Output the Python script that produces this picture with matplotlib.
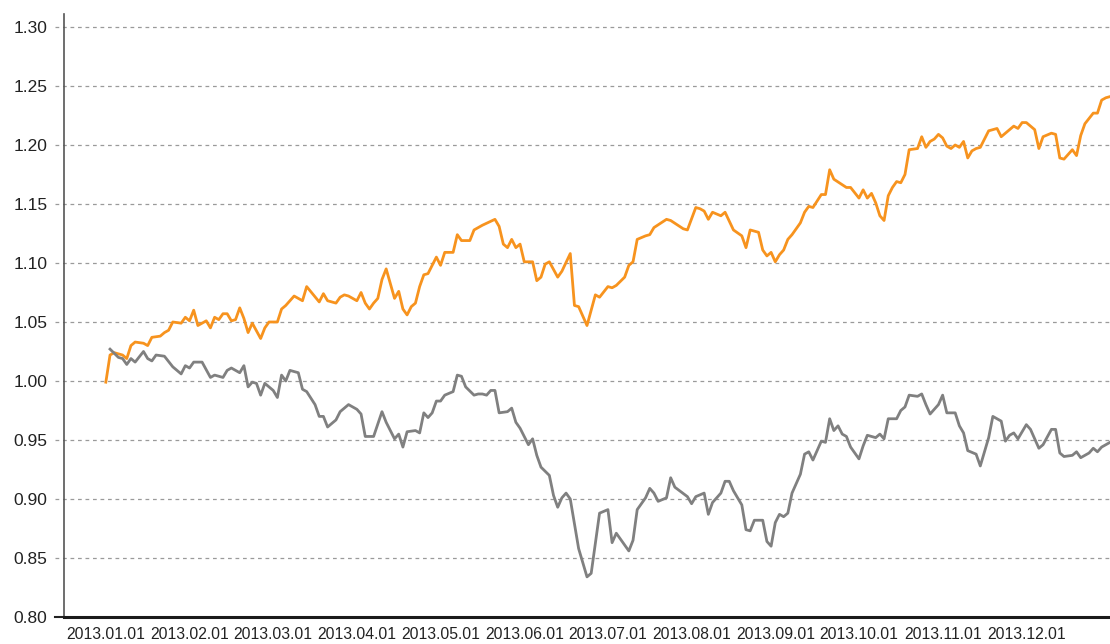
import matplotlib
matplotlib.use("Agg")
import matplotlib.pyplot as plt

plt.rcParams['font.family'] = ['Liberation Sans', 'DejaVu Sans']

# trading-day index (20 per month) and values
orange_days = [0, 1, 2, 4, 5, 6, 7, 9, 10, 11, 13, 14, 15, 16, 18, 19,
               20, 21, 22, 24, 25, 26, 27, 28, 29, 30, 31, 32, 33, 34, 35, 37, 38, 39,
               41, 42, 43, 44, 45, 47, 48, 51, 52, 53, 55, 56, 57, 58,
               60, 61, 62, 63, 64, 65, 66, 67, 69, 70, 71, 72, 73, 74, 75, 76, 77, 78, 79,
               80, 81, 83, 84, 85, 87, 88, 89, 90, 93, 94, 95, 96, 97, 98, 99,
               100, 102, 103, 104, 105, 106, 108, 109, 111, 112, 113, 115, 117, 118,
               120, 121, 122, 124, 125, 126, 127, 129, 130, 131, 134, 135, 138, 139,
               141, 142, 143, 144, 145, 147, 148, 150, 152, 153, 154, 156, 157, 158, 159,
               160, 161, 162, 163, 164, 166, 167, 168, 169, 171, 172, 173, 174, 177, 178,
               180, 181, 182, 183, 184, 185, 186, 187, 188, 189, 190, 191, 192, 194, 195,
               196, 197, 198, 199, 200, 201, 202, 203, 204, 205, 206, 207, 208, 209,
               211, 213, 214, 216, 217, 218, 219, 220, 222, 223, 224, 226, 227, 228, 229,
               231, 232, 233, 234, 236, 237, 238, 239, 240]
orange_vals = [0.999, 1.022, 1.024, 1.022, 1.019, 1.030, 1.033, 1.032, 1.030, 1.037, 1.038, 1.041, 1.043, 1.050, 1.049, 1.054,
               1.051, 1.060, 1.047, 1.051, 1.045, 1.054, 1.052, 1.057, 1.057, 1.051, 1.052, 1.062, 1.053, 1.041, 1.049, 1.036, 1.045, 1.050,
               1.050, 1.061, 1.064, 1.068, 1.072, 1.068, 1.080, 1.067, 1.074, 1.068, 1.066, 1.071, 1.073, 1.072,
               1.068, 1.075, 1.066, 1.061, 1.066, 1.070, 1.086, 1.095, 1.070, 1.076, 1.061, 1.056, 1.063, 1.066, 1.080, 1.090, 1.091, 1.098, 1.105,
               1.098, 1.109, 1.109, 1.124, 1.119, 1.119, 1.128, 1.130, 1.132, 1.137, 1.131, 1.116, 1.113, 1.120, 1.113, 1.116,
               1.101, 1.101, 1.085, 1.088, 1.099, 1.101, 1.088, 1.093, 1.108, 1.064, 1.063, 1.047, 1.073, 1.071,
               1.080, 1.079, 1.081, 1.088, 1.098, 1.101, 1.120, 1.123, 1.124, 1.130, 1.137, 1.136, 1.129, 1.128,
               1.147, 1.146, 1.144, 1.137, 1.143, 1.140, 1.143, 1.128, 1.123, 1.113, 1.128, 1.126, 1.111, 1.106, 1.109,
               1.101, 1.107, 1.111, 1.120, 1.124, 1.134, 1.143, 1.148, 1.147, 1.158, 1.158, 1.179, 1.171, 1.164, 1.164,
               1.155, 1.162, 1.155, 1.159, 1.151, 1.140, 1.136, 1.157, 1.164, 1.169, 1.168, 1.175, 1.196, 1.197, 1.207,
               1.198, 1.203, 1.205, 1.209, 1.206, 1.199, 1.197, 1.200, 1.198, 1.203, 1.189, 1.195, 1.197, 1.198,
               1.212, 1.214, 1.207, 1.213, 1.216, 1.214, 1.219, 1.219, 1.213, 1.197, 1.207, 1.210, 1.209, 1.189, 1.188,
               1.196, 1.191, 1.208, 1.218, 1.227, 1.227, 1.238, 1.240, 1.241]

gray_days = [1, 3, 4, 5, 6, 7, 9, 10, 11, 12, 14, 16, 18, 19,
             20, 21, 23, 25, 26, 28, 29, 30, 32, 33, 34, 35, 36, 37, 38,
             40, 41, 42, 43, 44, 46, 47, 48, 50, 51, 52, 53, 55, 56, 58,
             60, 61, 62, 64, 66, 67, 69, 70, 71, 72, 74, 75, 76, 77, 78, 79,
             80, 81, 83, 84, 85, 86, 88, 89, 90, 91, 92, 93, 94, 96, 97, 98, 99,
             101, 102, 103, 104, 106, 107, 108, 109, 110, 111, 113, 115, 116, 118,
             120, 121, 122, 125, 126, 127, 129, 130, 131, 132, 134, 135, 136, 139,
             140, 141, 143, 144, 145, 147, 148, 149, 150, 152, 153, 154, 155, 157, 158, 159,
             160, 161, 162, 163, 164, 166, 167, 168, 169, 171, 172, 173, 174, 175, 176, 177, 178,
             180, 181, 182, 184, 185, 186, 187, 189, 190, 191, 192, 194, 195, 196, 197, 199,
             200, 201, 203, 204, 205, 206, 208, 209, 211, 212, 214, 215, 216, 217, 218,
             220, 221, 223, 224, 226, 227, 228, 229, 231, 232, 233, 235, 236, 237, 238, 240]
gray_vals = [1.027, 1.020, 1.019, 1.014, 1.019, 1.016, 1.025, 1.019, 1.017, 1.022, 1.021, 1.012, 1.006, 1.013,
             1.011, 1.016, 1.016, 1.003, 1.005, 1.003, 1.009, 1.011, 1.007, 1.013, 0.995, 0.999, 0.998, 0.988, 0.998,
             0.992, 0.986, 1.005, 1.000, 1.009, 1.007, 0.993, 0.991, 0.980, 0.970, 0.970, 0.961, 0.967, 0.974, 0.980,
             0.976, 0.972, 0.953, 0.953, 0.974, 0.965, 0.951, 0.955, 0.944, 0.957, 0.958, 0.956, 0.973, 0.969, 0.973, 0.983,
             0.983, 0.988, 0.991, 1.005, 1.004, 0.995, 0.988, 0.989, 0.989, 0.988, 0.992, 0.992, 0.973, 0.974, 0.977, 0.965, 0.960,
             0.946, 0.951, 0.937, 0.927, 0.920, 0.903, 0.893, 0.901, 0.905, 0.900, 0.858, 0.834, 0.837, 0.888,
             0.891, 0.863, 0.871, 0.856, 0.865, 0.891, 0.901, 0.909, 0.905, 0.898, 0.901, 0.918, 0.910, 0.902,
             0.896, 0.902, 0.905, 0.887, 0.897, 0.905, 0.915, 0.915, 0.907, 0.895, 0.874, 0.873, 0.882, 0.882, 0.864, 0.860,
             0.880, 0.887, 0.885, 0.888, 0.905, 0.921, 0.938, 0.940, 0.933, 0.949, 0.948, 0.968, 0.958, 0.962, 0.955, 0.953, 0.944,
             0.934, 0.945, 0.954, 0.952, 0.955, 0.951, 0.968, 0.968, 0.975, 0.978, 0.988, 0.987, 0.989, 0.980, 0.972, 0.980,
             0.988, 0.973, 0.973, 0.962, 0.956, 0.941, 0.938, 0.928, 0.952, 0.970, 0.966, 0.949, 0.954, 0.956, 0.951,
             0.963, 0.959, 0.943, 0.946, 0.959, 0.959, 0.939, 0.936, 0.937, 0.940, 0.935, 0.939, 0.943, 0.940, 0.944, 0.948]

month_days = [0, 20, 40, 60, 80, 100, 120, 140, 160, 180, 200, 220]
month_labels = ['2013.01.01', '2013.02.01', '2013.03.01', '2013.04.01', '2013.05.01', '2013.06.01',
                '2013.07.01', '2013.08.01', '2013.09.01', '2013.10.01', '2013.11.01', '2013.12.01']
y_ticks = [0.80, 0.85, 0.90, 0.95, 1.00, 1.05, 1.10, 1.15, 1.20, 1.25, 1.30]

fig = plt.figure(figsize=(11.1, 6.44), dpi=100)
ax = fig.add_axes([64 / 1110, 27 / 644, 1046 / 1110, 603 / 644])

# dashed grid that runs a little past the left axis
for v in y_ticks[1:]:
    ax.axhline(v, xmin=-9 / 1046, xmax=1, color='#9a9a9a', lw=0.9,
               ls=(0, (3, 3)), clip_on=False, zorder=0)
ax.axhline(0.80, xmin=-9 / 1046, xmax=0, color='#222222', lw=1.5, clip_on=False)

ax.plot(orange_days, orange_vals, color='#F7931E', lw=2.0, zorder=3)
ax.plot(gray_days, gray_vals, color='#808080', lw=2.0, zorder=4)

ax.set_xlim(-10, 240)
ax.set_ylim(0.80, 1.311)
ax.set_yticks(y_ticks)
ax.set_yticklabels(['%.2f' % v for v in y_ticks])
ax.set_xticks(month_days)
ax.set_xticklabels(month_labels)
ax.tick_params(axis='y', length=0, pad=12, labelsize=12.5, labelcolor='#222222')
ax.tick_params(axis='x', length=0, pad=7, labelsize=11.3, labelcolor='#222222')

for side in ['top', 'right']:
    ax.spines[side].set_visible(False)
ax.spines['left'].set_color('#555555')
ax.spines['left'].set_linewidth(1.2)
ax.spines['bottom'].set_color('#1a1a1a')
ax.spines['bottom'].set_linewidth(2.2)

fig.savefig('out.png', dpi=100)
